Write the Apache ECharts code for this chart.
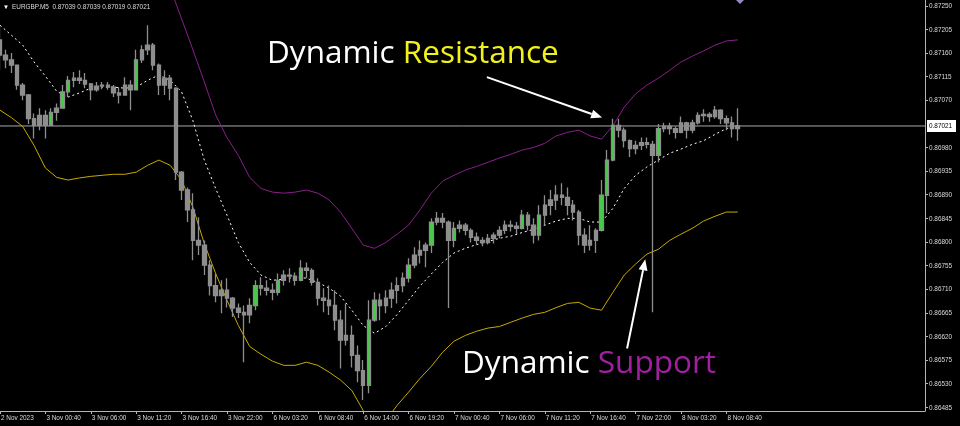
<!DOCTYPE html>
<html>
<head>
<meta charset="utf-8">
<script src="https://cdn.jsdelivr.net/npm/echarts@6/dist/echarts.min.js"></script>
<style>
html,body{margin:0;padding:0;background:#000;}
#chart{width:960px;height:426px;}
</style>
</head>
<body>
<div id="chart"></div>
<script>
// ---- data (EURGBP M5, each candle = 8 bars / 40 min) ----
const tickLabels = ['2 Nov 2023','3 Nov 00:40','3 Nov 06:00','3 Nov 11:20','3 Nov 16:40','3 Nov 22:00','6 Nov 03:20','6 Nov 08:40','6 Nov 14:00','6 Nov 19:20','7 Nov 00:40','7 Nov 06:00','7 Nov 11:20','7 Nov 16:40','7 Nov 22:00','8 Nov 03:20','8 Nov 08:40'];
const priceTicks = [0.86485,0.86530,0.86575,0.86620,0.86665,0.86710,0.86755,0.86800,0.86845,0.86890,0.86935,0.86980,0.87070,0.87115,0.87160,0.87205,0.87250];
const lastPrice = 0.87021;
const quote = ['0.87039','0.87039','0.87019','0.87021'];

const opens = [
0.87185,0.87156,0.87147,0.87137,0.87099,0.87080,0.87035,0.87022,0.87041,0.87022,
0.87047,0.87055,0.87086,0.87108,0.87112,0.87108,0.87101,0.87090,0.87097,0.87099,
0.87095,0.87084,0.87080,0.87099,0.87090,0.87147,0.87166,0.87175,0.87137,0.87099,
0.87112,0.87093,0.86933,0.86899,0.86861,0.86803,0.86794,0.86756,0.86717,0.86698,
0.86708,0.86693,0.86674,0.86666,0.86661,0.86679,0.86717,0.86712,0.86708,0.86704,
0.86727,0.86737,0.86735,0.86727,0.86750,0.86746,0.86723,0.86693,0.86689,0.86679,
0.86651,0.86613,0.86622,0.86584,0.86555,0.86527,0.86651,0.86689,0.86679,0.86693,
0.86708,0.86717,0.86731,0.86756,0.86775,0.86784,0.86794,0.86838,0.86845,0.86838,
0.86803,0.86826,0.86832,0.86822,0.86809,0.86803,0.86799,0.86807,0.86813,0.86822,
0.86832,0.86830,0.86826,0.86851,0.86832,0.86813,0.86851,0.86870,0.86880,0.86889,
0.86885,0.86870,0.86857,0.86813,0.86794,0.86803,0.86822,0.86889,0.86956,0.87022,
0.87013,0.86993,0.86978,0.86984,0.86989,0.86986,0.86965,0.87016,0.87020,0.87016,
0.87009,0.87027,0.87013,0.87027,0.87041,0.87043,0.87039,0.87051,0.87035,0.87027,
0.87016];
const closes = [
0.87156,0.87147,0.87137,0.87099,0.87080,0.87035,0.87022,0.87041,0.87022,0.87047,
0.87055,0.87086,0.87108,0.87112,0.87108,0.87101,0.87090,0.87097,0.87099,0.87095,
0.87084,0.87080,0.87099,0.87090,0.87147,0.87166,0.87175,0.87137,0.87099,0.87112,
0.87093,0.86933,0.86899,0.86861,0.86803,0.86794,0.86756,0.86717,0.86698,0.86708,
0.86693,0.86674,0.86666,0.86661,0.86679,0.86717,0.86712,0.86708,0.86704,0.86727,
0.86737,0.86735,0.86727,0.86750,0.86746,0.86723,0.86693,0.86689,0.86679,0.86651,
0.86613,0.86622,0.86584,0.86555,0.86527,0.86651,0.86689,0.86679,0.86693,0.86708,
0.86717,0.86731,0.86756,0.86775,0.86784,0.86794,0.86838,0.86845,0.86838,0.86803,
0.86826,0.86832,0.86822,0.86809,0.86803,0.86799,0.86807,0.86813,0.86822,0.86832,
0.86830,0.86826,0.86851,0.86832,0.86813,0.86851,0.86870,0.86880,0.86889,0.86885,
0.86870,0.86857,0.86813,0.86794,0.86803,0.86822,0.86889,0.86956,0.87022,0.87013,
0.86993,0.86978,0.86984,0.86989,0.86986,0.86965,0.87016,0.87020,0.87016,0.87009,
0.87027,0.87013,0.87027,0.87041,0.87043,0.87039,0.87051,0.87035,0.87027,0.87016,
0.87021];
const lows = [
0.87127,0.87131,0.87122,0.87090,0.87070,0.87025,0.86997,0.87013,0.86997,0.87027,
0.87031,0.87057,0.87076,0.87095,0.87101,0.87093,0.87070,0.87086,0.87091,0.87090,
0.87076,0.87064,0.87080,0.87051,0.87090,0.87141,0.87156,0.87127,0.87080,0.87080,
0.87070,0.86918,0.86880,0.86838,0.86765,0.86775,0.86737,0.86698,0.86685,0.86664,
0.86675,0.86657,0.86655,0.86571,0.86645,0.86670,0.86698,0.86698,0.86689,0.86698,
0.86717,0.86723,0.86717,0.86725,0.86731,0.86717,0.86679,0.86666,0.86661,0.86632,
0.86559,0.86603,0.86561,0.86533,0.86499,0.86512,0.86648,0.86651,0.86664,0.86674,
0.86683,0.86704,0.86723,0.86750,0.86759,0.86752,0.86779,0.86832,0.86826,0.86674,
0.86790,0.86818,0.86813,0.86799,0.86795,0.86792,0.86795,0.86797,0.86807,0.86815,
0.86820,0.86815,0.86824,0.86822,0.86797,0.86803,0.86832,0.86851,0.86861,0.86870,
0.86851,0.86841,0.86794,0.86779,0.86784,0.86779,0.86820,0.86855,0.86954,0.86999,
0.86980,0.86962,0.86967,0.86975,0.86978,0.86666,0.86952,0.87009,0.87005,0.86997,
0.87007,0.86997,0.87007,0.87024,0.87029,0.87029,0.87035,0.87025,0.87013,0.86999,
0.86993];
const highs = [
0.87213,0.87166,0.87160,0.87127,0.87103,0.87082,0.87045,0.87055,0.87051,0.87055,
0.87064,0.87099,0.87116,0.87124,0.87127,0.87122,0.87103,0.87105,0.87105,0.87105,
0.87099,0.87095,0.87114,0.87108,0.87166,0.87175,0.87213,0.87179,0.87140,0.87127,
0.87118,0.87095,0.86935,0.86904,0.86893,0.86847,0.86803,0.86765,0.86740,0.86727,
0.86731,0.86695,0.86683,0.86679,0.86693,0.86727,0.86733,0.86727,0.86721,0.86740,
0.86746,0.86750,0.86742,0.86765,0.86761,0.86750,0.86731,0.86712,0.86717,0.86708,
0.86670,0.86683,0.86641,0.86603,0.86575,0.86689,0.86704,0.86702,0.86708,0.86723,
0.86733,0.86742,0.86769,0.86790,0.86803,0.86799,0.86845,0.86857,0.86855,0.86841,
0.86838,0.86841,0.86836,0.86826,0.86818,0.86809,0.86815,0.86818,0.86830,0.86841,
0.86841,0.86838,0.86861,0.86857,0.86845,0.86870,0.86889,0.86899,0.86908,0.86912,
0.86904,0.86880,0.86861,0.86826,0.86832,0.86826,0.86918,0.86975,0.87035,0.87035,
0.87018,0.86995,0.86993,0.86999,0.86999,0.86993,0.87025,0.87027,0.87027,0.87020,
0.87039,0.87029,0.87033,0.87047,0.87053,0.87047,0.87059,0.87053,0.87041,0.87039,
0.87055];

// band values, one every 2 candles (80 min)
const bandMiddle = [
0.87213,0.87194,0.87175,0.87143,0.87116,0.87087,0.87076,0.87084,0.87093,0.87095,
0.87095,0.87093,0.87095,0.87108,0.87118,0.87108,0.87086,0.87031,0.86956,0.86902,
0.86851,0.86799,0.86761,0.86737,0.86727,0.86729,0.86733,0.86731,0.86723,0.86712,
0.86697,0.86670,0.86641,0.86626,0.86639,0.86662,0.86689,0.86716,0.86739,0.86761,
0.86779,0.86788,0.86795,0.86801,0.86807,0.86811,0.86818,0.86824,0.86832,0.86840,
0.86845,0.86845,0.86838,0.86838,0.86864,0.86902,0.86927,0.86943,0.86956,0.86969,
0.86977,0.86986,0.86993,0.87005,0.87016,0.87022];
const bandUpper = [
null,null,null,null,null,null,null,null,null,null,
null,null,null,null,0.87347,0.87284,0.87225,0.87166,0.87105,0.87042,
0.86999,0.86965,0.86923,0.86902,0.86895,0.86893,0.86895,0.86899,0.86893,0.86880,
0.86857,0.86826,0.86794,0.86788,0.86799,0.86815,0.86832,0.86861,0.86893,0.86916,
0.86927,0.86937,0.86944,0.86952,0.86960,0.86967,0.86975,0.86980,0.86988,0.87002,
0.87009,0.87013,0.87002,0.86996,0.87021,0.87057,0.87082,0.87099,0.87112,0.87127,
0.87143,0.87154,0.87164,0.87175,0.87183,0.87185];
const bandLower = [
0.87051,0.87037,0.87020,0.86984,0.86941,0.86923,0.86918,0.86922,0.86925,0.86927,
0.86929,0.86929,0.86933,0.86946,0.86956,0.86946,0.86918,0.86866,0.86797,0.86740,
0.86689,0.86641,0.86601,0.86586,0.86573,0.86565,0.86565,0.86571,0.86565,0.86552,
0.86537,0.86517,0.86479,0.86451,0.86460,0.86489,0.86514,0.86540,0.86563,0.86590,
0.86611,0.86622,0.86630,0.86636,0.86639,0.86647,0.86655,0.86662,0.86666,0.86675,
0.86683,0.86685,0.86674,0.86670,0.86704,0.86737,0.86758,0.86777,0.86786,0.86803,
0.86815,0.86826,0.86840,0.86849,0.86857,0.86857];

// ---- build ----
const SLOTS = 164;
const categories = [];
for (let i = 0; i < SLOTS; i++) categories.push(i % 8 === 0 && tickLabels[i / 8] ? tickLabels[i / 8] : '');
const GREY = '#8e8e8e', GREEN = '#3fd03f';
const candles = opens.map((o, i) => {
  const c = closes[i];
  const item = {value: [o, c, lows[i], highs[i]]};
  if (c > o) item.itemStyle = {color: (c - o) > 0.0002 ? GREEN : GREY};
  return item;
});
const band = arr => arr.map((v, k) => [k * 2, v]);

const FONT = "'Liberation Sans', Arial, sans-serif";
const LABEL_SCALE = 0.8;
const chart = echarts.init(document.getElementById('chart'), null, {renderer: 'canvas'});
chart.setOption({
  backgroundColor: '#000000',
  animation: false,
  grid: {left: 0, right: 35, top: 0, bottom: 15},
  xAxis: [{
    type: 'category', data: categories, boundaryGap: false,
    axisLine: {onZero: false, lineStyle: {color: '#b4b4b4', width: 1}},
    axisTick: {show: true, interval: (i) => i % 8 === 0 && i <= 128, length: 3, lineStyle: {color: '#b4b4b4'}},
    axisLabel: {show: false},
    splitLine: {show: false}
  }, {
    type: 'value', min: 0, max: SLOTS - 1, show: false
  }],
  yAxis: {
    type: 'value', position: 'right', min: 0.86478, max: 0.87261, scale: true,
    axisLine: {show: true, onZero: false, lineStyle: {color: '#b4b4b4', width: 1}},
    axisTick: {show: true, length: 3, customValues: priceTicks, lineStyle: {color: '#b4b4b4'}},
    axisLabel: {show: false},
    splitLine: {show: false}
  },
  series: [{
    type: 'candlestick', data: candles, barWidth: 4, z: 3,
    itemStyle: {color: GREY, color0: GREY, borderColor: GREY, borderColor0: GREY, borderWidth: 1.3}
  }, {
    type: 'line', xAxisIndex: 1, data: [[0, lastPrice], [SLOTS - 1, lastPrice]], showSymbol: false, z: 1,
    lineStyle: {color: '#a3a8b0', width: 1}
  }, {
    type: 'line', xAxisIndex: 1, data: band(bandUpper), showSymbol: false, z: 2,
    lineStyle: {color: '#8a1f8a', width: 1}
  }, {
    type: 'line', xAxisIndex: 1, data: band(bandLower), showSymbol: false, z: 2,
    lineStyle: {color: '#c8a800', width: 1}
  }, {
    type: 'line', xAxisIndex: 1, data: band(bandMiddle), showSymbol: false, z: 2,
    lineStyle: {color: '#ffffff', width: 1, type: [2, 3]}
  }]
});

// annotation arrows (in data coordinates) and narrow axis texts, placed through the chart's own scales
const arrows = [
  [[85.8, 0.87114], [106.1, 0.87037]],
  [[110.5, 0.86597], [113.7, 0.86767]]
];
const g = [];
arrows.forEach(([a, b]) => {
  const p0 = chart.convertToPixel({xAxisIndex: 1, yAxisIndex: 0}, a);
  const p1 = chart.convertToPixel({xAxisIndex: 1, yAxisIndex: 0}, b);
  const dx = p1[0] - p0[0], dy = p1[1] - p0[1], len = Math.hypot(dx, dy);
  const ux = dx / len, uy = dy / len, hl = 11, hw = 4.5;
  const bx = p1[0] - ux * hl, by = p1[1] - uy * hl;
  g.push({type: 'line', silent: true, shape: {x1: p0[0], y1: p0[1], x2: bx, y2: by}, style: {stroke: '#ffffff', lineWidth: 2}});
  g.push({type: 'polygon', silent: true, shape: {points: [[p1[0], p1[1]], [bx - uy * hw, by + ux * hw], [bx + uy * hw, by - ux * hw]]}, style: {fill: '#ffffff'}});
});
tickLabels.forEach((t, k) => {
  const px = chart.convertToPixel({xAxisIndex: 0}, k * 8);
  g.push({type: 'text', x: px + 1, y: 418, scaleX: LABEL_SCALE, silent: true,
    style: {text: t, fill: '#dcdcdc', fontSize: 8, fontFamily: FONT, align: 'left', verticalAlign: 'middle'}});
});
priceTicks.forEach(v => {
  const py = chart.convertToPixel({yAxisIndex: 0}, v);
  g.push({type: 'text', x: 929, y: py, scaleX: LABEL_SCALE, silent: true,
    style: {text: v.toFixed(5), fill: '#dcdcdc', fontSize: 8, fontFamily: FONT, align: 'left', verticalAlign: 'middle'}});
});
const lp = chart.convertToPixel({yAxisIndex: 0}, lastPrice);
g.push({type: 'rect', shape: {x: 927, y: lp - 6, width: 29, height: 12}, style: {fill: '#ffffff'}, silent: true});
g.push({type: 'text', x: 929, y: lp, scaleX: LABEL_SCALE, silent: true,
  style: {text: lastPrice.toFixed(5), fill: '#000000', fontSize: 8, fontFamily: FONT, align: 'left', verticalAlign: 'middle'}});
g.push({type: 'polygon', silent: true, shape: {points: [[736, 0], [744, 0], [740, 4]]}, style: {fill: '#9a86c0'}});
g.push({type: 'text', x: 3, y: 7, silent: true, style: {text: '\u25BC', fill: '#ffffff', fontSize: 6, fontFamily: FONT, verticalAlign: 'middle'}});
g.push({type: 'text', x: 12, y: 7, scaleX: LABEL_SCALE, silent: true,
  style: {text: 'EURGBP.M5  ' + quote.join(' '), fill: '#dcdcdc', fontSize: 8, fontFamily: FONT, verticalAlign: 'middle'}});
g.push({type: 'text', x: 267, y: 54, silent: true, style: {
  text: '{a|Dynamic }{b|Resistance}', verticalAlign: 'middle',
  rich: {a: {fill: '#ffffff', fontSize: 31.5, fontFamily: 'Open Sans'}, b: {fill: '#f0f01e', fontSize: 31.5, fontFamily: 'Open Sans'}}}});
g.push({type: 'text', x: 462, y: 364, silent: true, style: {
  text: '{a|Dynamic }{b|Support}', verticalAlign: 'middle',
  rich: {a: {fill: '#ffffff', fontSize: 31.5, fontFamily: 'Open Sans'}, b: {fill: '#a020a0', fontSize: 31.5, fontFamily: 'Open Sans'}}}});
chart.setOption({graphic: g});
</script>
</body>
</html>
